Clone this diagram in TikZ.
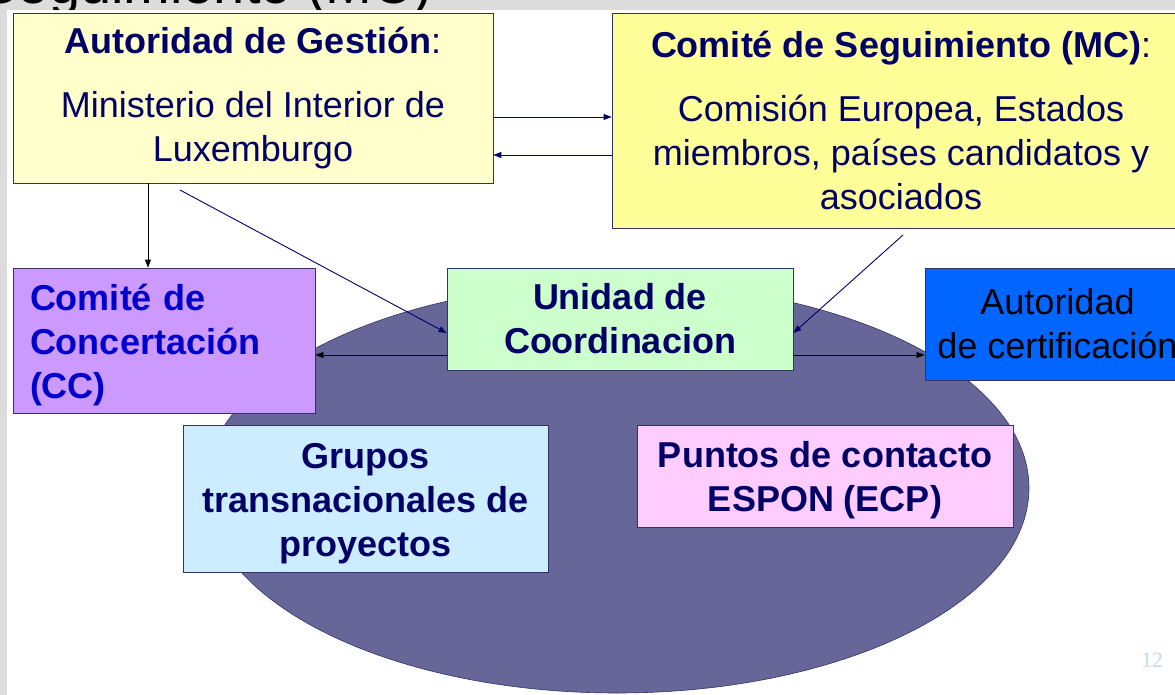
\documentclass[tikz,border=0pt]{standalone}
\usepackage{fontspec}
\setmainfont{Liberation Sans}
\newfontfamily\pgnumfont{Liberation Serif}
\usetikzlibrary{arrows.meta}
\definecolor{navy}{HTML}{000066}
\definecolor{ccblue}{HTML}{0000CC}
\definecolor{boxline}{HTML}{333366}
\definecolor{slidegray}{HTML}{DCDCDC}
\definecolor{gestfill}{HTML}{FFFFCC}
\definecolor{segfill}{HTML}{FFFF99}
\definecolor{ccfill}{HTML}{CC99FF}
\definecolor{ucfill}{HTML}{CCFFCC}
\definecolor{acfill}{HTML}{0066FF}
\definecolor{grfill}{HTML}{CCECFF}
\definecolor{ptfill}{HTML}{FFCCFF}
\definecolor{ellfill}{HTML}{666699}
\definecolor{pgcolor}{HTML}{C5D9F1}
\newcommand{\topstrut}{\rule{0pt}{35pt}}
\begin{document}
\begin{tikzpicture}[x=1pt,y=-1pt,
  box/.style={draw=boxline, line width=0.8pt, inner sep=0pt, align=center,
    font=\fontsize{36}{44}\selectfont, text=navy},
  conn/.style={line width=0.9pt, -{Triangle[length=8pt,width=6pt]}}]
\useasboundingbox (0,0) rectangle (1175,695);
\clip (0,0) rectangle (1175,695);
% slide background
\fill[slidegray] (0,0) rectangle (1175,695);
\node[anchor=base east, inner sep=0pt, font=\fontsize{56}{56}\selectfont] (ghost) at (432,4) {Seguimiento (MC)};
\fill[white] (7,10) rectangle (1175,695);
% ellipse
\draw[fill=ellfill, draw=boxline, line width=0.6pt] (617,488) ellipse [x radius=412, y radius=205];
% boxes
\node[box, fill=gestfill, minimum width=480, minimum height=170] (gest) at (253,98)
  {\textbf{Autoridad de Gestión}:\\[20pt] Ministerio del Interior de\\ Luxemburgo};
\node[box, fill=segfill, minimum width=578, minimum height=215] (seg) at (901,120.5)
  {\textbf{Comité de Seguimiento (MC)}:\\[20pt] Comisión Europea, Estados\\ miembros, países candidatos y\\ asociados};
\node[box, fill=ccfill, minimum width=302, minimum height=145, text width=268, inner xsep=17pt,
  align=left, text=ccblue, font=\fontsize{36}{44}\selectfont\bfseries] (cc) at (164,340.5)
  {\topstrut Comité de\\ Concertación\\ (CC)};
\node[box, fill=ucfill, minimum width=346, minimum height=102, font=\fontsize{36}{44}\selectfont\bfseries] (uc) at (620,319)
  {Unidad de\\ Coordinacion};
\node[box, fill=acfill, minimum width=265, minimum height=112, text=black] (ac) at (1057.5,324)
  {Autoridad\\ de certificación};
\node[box, fill=grfill, minimum width=365, minimum height=147, font=\fontsize{36}{44}\selectfont\bfseries] (gr) at (365.5,498.5)
  {\topstrut Grupos\\ transnacionales de\\ proyectos};
\node[box, fill=ptfill, minimum width=376, minimum height=102, font=\fontsize{36}{44}\selectfont\bfseries] (pt) at (825,476)
  {\topstrut Puntos de contacto\\ ESPON (ECP)};
% connectors
\coordinate (d1) at (180,190);
\coordinate (d2) at (903,235);
\draw[conn, navy] ([yshift=-19pt]gest.east) -- ([yshift=-19pt]gest.east -| seg.west);
\draw[conn, navy] ([yshift=-57pt]gest.east -| seg.west) -- ([yshift=-57pt]gest.east);
\draw[conn, black] ([xshift=-16pt]cc.north |- gest.south) -- ([xshift=-16pt]cc.north);
\draw[conn, navy] (d1) -- ([yshift=-14pt]uc.west);
\draw[conn, navy] (d2) -- ([yshift=-14pt]uc.east);
\draw[conn, black] ([yshift=-36pt]uc.west) -- ([yshift=-36pt]uc.west -| cc.east);
\draw[conn, black] ([yshift=-36pt]uc.east) -- ([yshift=-36pt]uc.east -| ac.west);
% page number
\node[text=pgcolor, font=\pgnumfont\fontsize{22}{22}\selectfont] (pg) at (1152,660) {12};
\end{tikzpicture}
\end{document}
